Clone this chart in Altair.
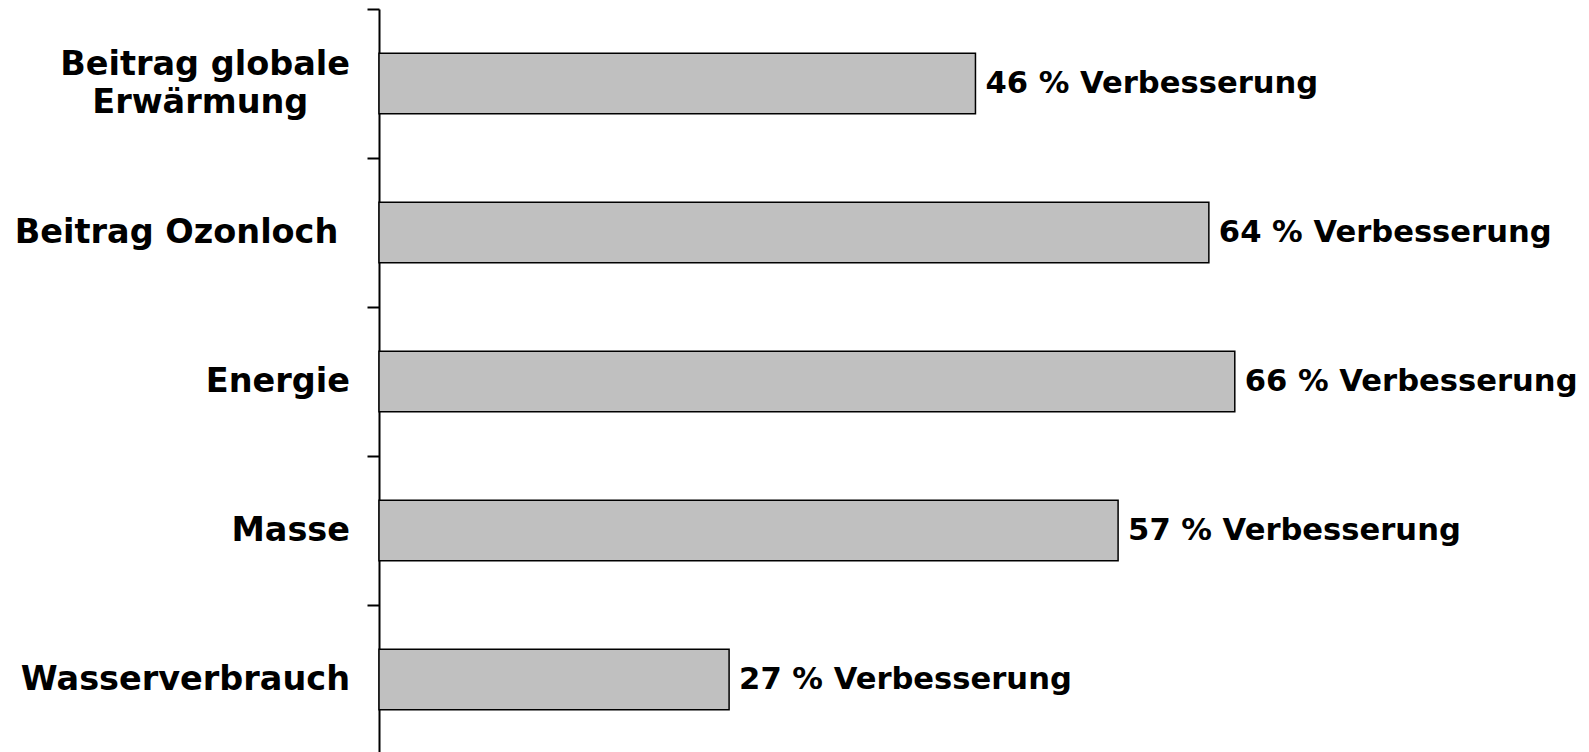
import altair as alt
import pandas as pd

categories = [
    "Beitrag globale\nErwärmung\u00a0\u00a0\u00a0\u2009\u200b",
    "Beitrag Ozonloch\u00a0\u200b",
    "Energie",
    "Masse",
    "Wasserverbrauch",
]
values = [46, 64, 66, 57, 27]
labels = [f"{v} % Verbesserung" for v in values]
multiline = [True, False, False, False, False]

df = pd.DataFrame({"cat": categories, "val": values, "lab": labels, "multi": multiline})

FONT = "DejaVu Sans"

y = alt.Y(
    "cat:N",
    sort=categories,
    scale=alt.Scale(paddingInner=0, paddingOuter=0),
    axis=alt.Axis(
        title=None,
        tickBand="extent",
        domainColor="black",
        domainWidth=2,
        tickColor="black",
        tickWidth=2,
        tickSize=12,
        labels=False,
    ),
)

x = alt.X("val:Q", scale=alt.Scale(domain=[0, 92.7], nice=False, zero=True), axis=None)

base = alt.Chart(df)

bars = base.mark_bar(
    color="#c0c0c0", stroke="black", strokeWidth=1.5,
    height=alt.RelativeBandSize(0.405),
).encode(x=x, y=y)

text = base.mark_text(
    align="left", baseline="middle", dx=10, font=FONT, fontWeight="bold",
    fontSize=30.6, color="black",
).encode(x=x, y=y, text="lab:N")

ylab_single = base.transform_filter("!datum.multi").mark_text(
    align="right", baseline="middle", font=FONT, fontWeight="bold",
    fontSize=33.5, color="black",
).encode(x=alt.value(-29), y=y, text="cat:N")

ylab_multi = base.transform_filter("datum.multi").mark_text(
    align="right", baseline="line-bottom", font=FONT, fontWeight="bold",
    fontSize=33.5, color="black", lineBreak="\n", lineHeight=38,
).encode(x=alt.value(-29), y=y, text="cat:N")

chart = (bars + text + ylab_single + ylab_multi).properties(
    width=1202, height=745,
    autosize=alt.AutoSizeParams(type="none"),
    padding={"left": 371, "top": 1, "right": 0, "bottom": 0},
).configure_view(stroke=None)

chart.save("out.html", embed_options={"renderer": "svg", "actions": False})
